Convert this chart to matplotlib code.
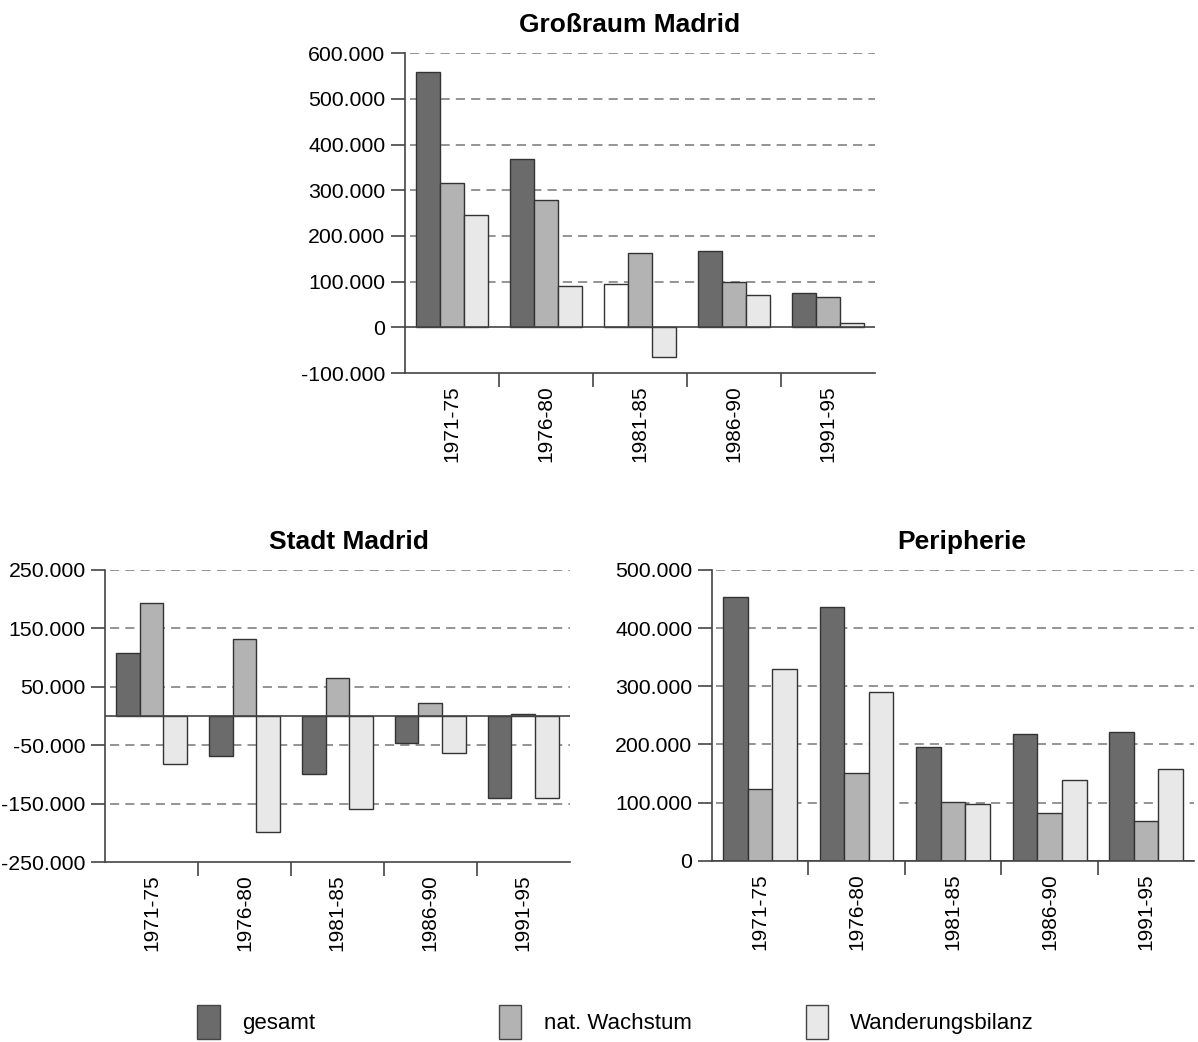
import numpy as np
import matplotlib.pyplot as plt
from matplotlib.patches import Patch
from matplotlib.ticker import FuncFormatter, FixedLocator

plt.rcParams['font.family'] = ['Liberation Sans', 'DejaVu Sans']

periods = ["1971-75", "1976-80", "1981-85", "1986-90", "1991-95"]
series_names = ["gesamt", "nat. Wachstum", "Wanderungsbilanz"]
colors = ["#6b6b6b", "#b3b3b3", "#e8e8e8"]

# Großraum Madrid
gross_gesamt = [558000, 369000, 94000, 167000, 75000]
gross_nat = [315000, 279000, 162000, 99000, 66000]
gross_wand = [246000, 90000, -66000, 71000, 9000]

# Stadt Madrid
stadt_gesamt = [108000, -69000, -99000, -47000, -141000]
stadt_nat = [193000, 132000, 65000, 22000, 3000]
stadt_wand = [-83000, -199000, -160000, -64000, -141000]

# Peripherie
peri_gesamt = [454000, 437000, 196000, 218000, 222000]
peri_nat = [123000, 151000, 101000, 82000, 68000]
peri_wand = [330000, 290000, 97000, 138000, 157000]


def de_fmt(v, pos=None):
    return f"{int(round(v)):,}".replace(",", ".")


def bar_panel(ax, title, data, yticks, grid_vals, ylim, title_x):
    x = np.arange(len(periods))
    w = 0.255
    bars = []
    for i, vals in enumerate(data):
        b = ax.bar(x + (i - 1) * w, vals, w, color=colors[i], edgecolor="#333333",
                   linewidth=1.0, zorder=3)
        bars.append(b)
    for g in grid_vals:
        ax.axhline(g, xmin=0.01, color="#777777", linestyle=(0, (6, 4)), linewidth=1.1, zorder=1)
    ax.axhline(0, color="#444444", linewidth=1.2, zorder=4)
    ax.set_xlim(-0.5, len(periods) - 0.5)
    ax.set_ylim(*ylim)
    ax.yaxis.set_major_locator(FixedLocator(yticks))
    ax.yaxis.set_major_formatter(FuncFormatter(de_fmt))
    ax.set_xticks(x)
    ax.set_xticklabels(periods, rotation=90)
    ax.set_xticks(x[:-1] + 0.5, minor=True)
    ax.tick_params(axis="x", which="major", length=0, pad=9, labelsize=15)
    ax.tick_params(axis="x", which="minor", length=10, width=1.2, color="#444444", direction="out")
    ax.tick_params(axis="y", length=10, width=1.2, color="#444444", labelsize=15.3, pad=4)
    for s in ["top", "right"]:
        ax.spines[s].set_visible(False)
    for s in ["left", "bottom"]:
        ax.spines[s].set_color("#444444")
        ax.spines[s].set_linewidth(1.2)
    ax.set_title(title, fontsize=19, fontweight="bold", pad=15, x=title_x)
    return bars


fig = plt.figure(figsize=(11.98, 10.42), dpi=100)

ax_top = fig.add_axes([0.338, 0.642, 0.392, 0.307])
bars = bar_panel(ax_top, "Großraum Madrid", [gross_gesamt, gross_nat, gross_wand],
                 list(range(-100000, 600001, 100000)), range(100000, 600001, 100000),
                 (-100000, 600000), 0.479)
bars[0][2].set_facecolor("white")

ax_l = fig.add_axes([0.0876, 0.1727, 0.388, 0.2803])
bar_panel(ax_l, "Stadt Madrid", [stadt_gesamt, stadt_nat, stadt_wand],
          [-250000, -150000, -50000, 50000, 150000, 250000],
          [-150000, -50000, 50000, 150000, 250000], (-250000, 250000), 0.525)

ax_r = fig.add_axes([0.594, 0.174, 0.403, 0.279])
bar_panel(ax_r, "Peripherie", [peri_gesamt, peri_nat, peri_wand],
          list(range(0, 500001, 100000)), range(100000, 500001, 100000), (0, 500000), 0.518)

legend_x = [0.148, 0.40, 0.656]
for i, name in enumerate(series_names):
    h = Patch(facecolor=colors[i], edgecolor="#444444", linewidth=1.0)
    fig.legend([h], [name], loc="center left", bbox_to_anchor=(legend_x[i], 0.019),
               frameon=False, fontsize=16, handlelength=1.0, handleheight=2.0,
               handletextpad=1.0)

fig.savefig("out.png", dpi=100)
